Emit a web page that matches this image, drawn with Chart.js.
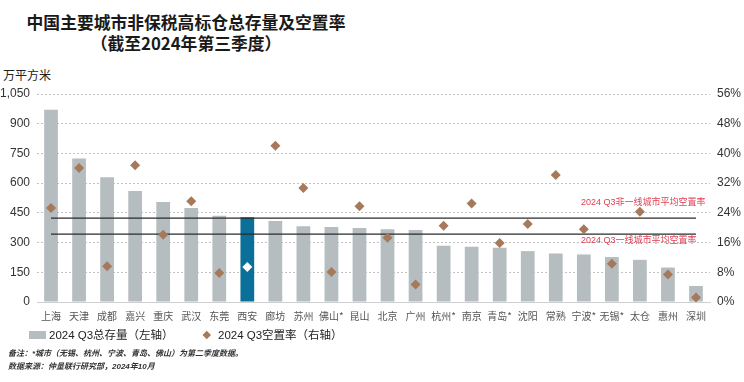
<!DOCTYPE html>
<html><head><meta charset="utf-8">
<script src="https://cdn.jsdelivr.net/npm/chart.js@4/dist/chart.umd.min.js"></script>
<style>
body{margin:0;width:744px;height:382px;background:#fff;position:relative;overflow:hidden;font-family:"Liberation Sans","Noto Sans CJK SC",sans-serif;color:#222;}
#title{position:absolute;left:0;width:372px;top:12px;text-align:center;font-family:"Noto Sans CJK SC",sans-serif;font-weight:700;font-size:16.8px;line-height:21px;color:#1a1a1a;}
#unit{position:absolute;left:3px;top:67px;font-family:"Noto Sans CJK SC",sans-serif;font-size:12px;line-height:16px;color:#222;}
#c{position:absolute;left:0;top:0;}
#legend{position:absolute;left:29px;top:327px;height:16px;font-size:11.5px;line-height:16px;color:#222;font-family:"Liberation Sans","Noto Sans CJK SC",sans-serif;}
#legend .item{position:absolute;top:0;white-space:nowrap;}
#legend .box{position:absolute;left:0;top:4px;width:17px;height:8px;background:#b5bdc0;}
#legend .dia{position:absolute;left:175px;top:5px;width:5.5px;height:5.5px;background:#a6795b;transform:rotate(45deg);}
#notes{position:absolute;left:8px;top:347px;font-size:8px;line-height:13px;font-weight:700;font-style:italic;color:#333;font-family:"Liberation Sans","Noto Sans CJK SC",sans-serif;}
</style></head><body>
<div id="title">中国主要城市非保税高标仓总存量及空置率<br>（截至2024年第三季度）</div>
<div id="unit">万平方米</div>
<canvas id="c" width="744" height="339"></canvas>
<div id="legend">
  <div class="box"></div><div class="item" style="left:20px">2024 Q3总存量（左轴）</div>
  <div class="dia"></div><div class="item" style="left:189px">2024 Q3空置率（右轴）</div>
</div>
<div id="notes">备注：*城市（无锡、杭州、宁波、青岛、佛山）为第二季度数据。<br>数据来源：仲量联行研究部，2024年10月</div>
<script>
// ---- data ----
const cities = ['上海','天津','成都','嘉兴','重庆','武汉','东莞','西安','廊坊','苏州','佛山*','昆山','北京','广州','杭州*','南京','青岛*','沈阳','常熟','宁波*','无锡*','太仓','惠州','深圳'];
const stock = [970,725,630,560,505,475,435,428,409,382,379,374,367,364,284,279,274,257,245,240,227,213,174,81];
const vacancy = [25.3,36.1,9.6,36.8,18.1,27.1,7.8,9.4,42.1,30.7,8.1,25.8,17.3,4.7,20.5,26.5,15.9,21.0,34.2,19.6,10.3,24.3,7.4,1.2];
const leftTicks = [0,150,300,450,600,750,900,1050];
const rightTicks = [0,8,16,24,32,40,48,56];
const nonTier1Avg = 22.6;
const tier1Avg = 18.3;
const nonTier1Label = '2024 Q3非一线城市平均空置率';
const tier1Label = '2024 Q3一线城市平均空置率';
const highlightCity = '西安';

const GRAY = '#b5bdc0', BLUE = '#0a6f99', BROWN = '#a6795b', RED = '#e23d50';
const barColors = cities.map(c => c === highlightCity ? BLUE : GRAY);
const dotColors = cities.map(c => c === highlightCity ? '#ffffff' : BROWN);
const first = cities[0], last = cities[cities.length-1];

const avgLabels = {
  id:'avgLabels',
  afterDatasetsDraw(chart){
    const {ctx, chartArea, scales:{y1}} = chart;
    ctx.save();
    ctx.font = '9px "Liberation Sans","Noto Sans CJK SC",sans-serif';
    ctx.fillStyle = RED;
    ctx.textAlign = 'left';
    ctx.textBaseline = 'middle';
    const x = chartArea.right - 129;
    ctx.fillText(nonTier1Label, x, y1.getPixelForValue(nonTier1Avg) - 15.5);
    ctx.fillText(tier1Label, x, y1.getPixelForValue(tier1Avg) + 6.5);
    ctx.restore();
  }
};

new Chart(document.getElementById('c'), {
  data:{
    labels: cities,
    datasets:[
      {type:'scatter', label:'2024 Q3空置率（右轴）', data: vacancy.map((v,i)=>({x:cities[i], y:v})), yAxisID:'y1', xAxisID:'x',
       pointStyle:'rectRot', pointRadius:5, pointHoverRadius:5, backgroundColor: dotColors, borderColor: dotColors, borderWidth:0, order:0},
      {type:'line', label:'非一线', data:[{x:first,y:nonTier1Avg},{x:last,y:nonTier1Avg}], yAxisID:'y1',
       borderColor:'#2b2b2b', borderWidth:1.3, pointRadius:0, order:1},
      {type:'line', label:'一线', data:[{x:first,y:tier1Avg},{x:last,y:tier1Avg}], yAxisID:'y1',
       borderColor:'#2b2b2b', borderWidth:1.3, pointRadius:0, order:1},
      {type:'bar', label:'2024 Q3总存量（左轴）', data: stock, yAxisID:'y', backgroundColor: barColors,
       categoryPercentage:1, barPercentage:0.49, order:2}
    ]
  },
  options:{
    responsive:false, animation:false,
    layout:{padding:{left:0, right:0, top:94, bottom:9}},
    plugins:{legend:{display:false}, tooltip:{enabled:false}, title:{display:false}},
    scales:{
      x:{type:'category', labels:cities, offset:true,
         grid:{display:false, drawTicks:false},
         border:{display:true, color:'#cfcfcf', width:1},
         ticks:{autoSkip:false, maxRotation:0, minRotation:0, padding:8, color:'#555',
                font:{size:10, family:'"Noto Sans CJK SC","Liberation Sans",sans-serif'}}},
      y:{position:'left', min:0, max:1050,
         afterBuildTicks(s){ s.ticks = leftTicks.map(v=>({value:v})); },
         afterFit(s){ s.width = 37; },
         grid:{color:'#c2c2c2', lineWidth:1, drawTicks:false},
         border:{display:false, dash:[2,2]},
         ticks:{padding:7, color:'#333', font:{size:12, family:'"Liberation Sans",sans-serif'},
                callback:v=>v.toLocaleString('en-US')}},
      y1:{position:'right', min:0, max:56,
         afterBuildTicks(s){ s.ticks = rightTicks.map(v=>({value:v})); },
         afterFit(s){ s.width = 34; },
         grid:{drawOnChartArea:false, drawTicks:false},
         border:{display:false},
         ticks:{padding:7, color:'#333', font:{size:12, family:'"Liberation Sans",sans-serif'},
                callback:v=>v+'%'}}
    }
  },
  plugins:[avgLabels]
});
</script>
</body></html>
